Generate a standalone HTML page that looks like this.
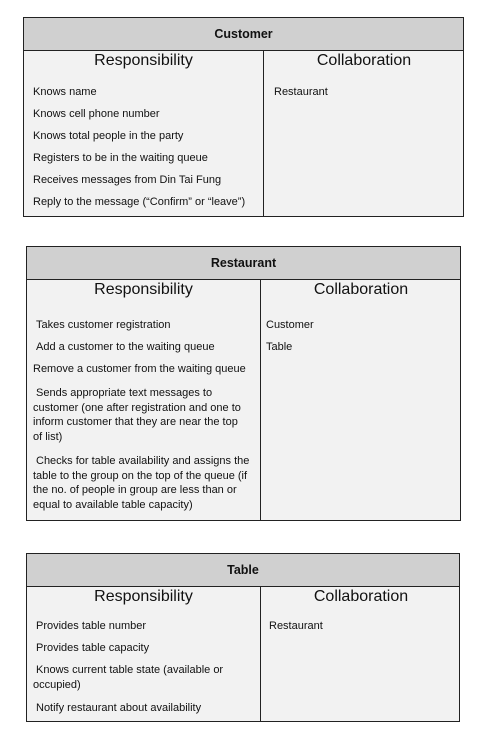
<!DOCTYPE html>
<html><head><meta charset="utf-8"><style>
body{margin:0;width:487px;height:746px;background:#fff;position:relative;font-family:"Liberation Sans",sans-serif;color:#111;overflow:hidden}
.box{position:absolute;border:1px solid #222;background:#f2f2f2;box-sizing:border-box}
.hd{position:absolute;left:0;right:0;top:0;height:32px;background:#d0d0d0;border-bottom:1px solid #222;font-weight:bold;font-size:12.5px;text-align:center;line-height:32px}
.dv{position:absolute;top:32px;bottom:0;width:1px;background:#222}
.h2{position:absolute;font-size:16px;line-height:20px;text-align:center}
.t{position:absolute;font-size:11px;line-height:14.7px;white-space:nowrap}
.i{padding-left:3px}
</style></head><body>

<div class="box" style="left:23px;top:17px;width:441px;height:200px">
<div class="hd">Customer</div>
<div class="dv" style="left:239px"></div>
<div class="h2" style="left:0;width:239px;top:33px">Responsibility</div>
<div class="h2" style="left:240px;width:200px;top:33px">Collaboration</div>
<div class="t" style="left:9px;top:67px">Knows name</div>
<div class="t" style="left:9px;top:89px">Knows cell phone number</div>
<div class="t" style="left:9px;top:111px">Knows total people in the party</div>
<div class="t" style="left:9px;top:133px">Registers to be in the waiting queue</div>
<div class="t" style="left:9px;top:155px">Receives messages from Din Tai Fung</div>
<div class="t" style="left:9px;top:177px">Reply to the message (“Confirm” or “leave”)</div>
<div class="t" style="left:250px;top:67px">Restaurant</div>
</div>

<div class="box" style="left:26px;top:246px;width:435px;height:275px">
<div class="hd">Restaurant</div>
<div class="dv" style="left:233px"></div>
<div class="h2" style="left:0;width:233px;top:33px">Responsibility</div>
<div class="h2" style="left:234px;width:200px;top:33px">Collaboration</div>
<div class="t" style="left:9px;top:71px">Takes customer registration</div>
<div class="t" style="left:9px;top:93px">Add a customer to the waiting queue</div>
<div class="t" style="left:6px;top:115px">Remove a customer from the waiting queue</div>
<div class="t" style="left:6px;top:139px"><span class="i">Sends appropriate text messages to</span><br>customer (one after registration and one to<br>inform customer that they are near the top<br>of list)</div>
<div class="t" style="left:6px;top:207px"><span class="i">Checks for table availability and assigns the</span><br>table to the group on the top of the queue (if<br>the no. of people in group are less than or<br>equal to available table capacity)</div>
<div class="t" style="left:239px;top:71px">Customer</div>
<div class="t" style="left:239px;top:93px">Table</div>
</div>

<div class="box" style="left:26px;top:553px;width:434px;height:169px">
<div class="hd">Table</div>
<div class="dv" style="left:233px"></div>
<div class="h2" style="left:0;width:233px;top:33px">Responsibility</div>
<div class="h2" style="left:234px;width:200px;top:33px">Collaboration</div>
<div class="t" style="left:9px;top:65px">Provides table number</div>
<div class="t" style="left:9px;top:87px">Provides table capacity</div>
<div class="t" style="left:6px;top:109px"><span class="i">Knows current table state (available or</span><br>occupied)</div>
<div class="t" style="left:9px;top:147px">Notify restaurant about availability</div>
<div class="t" style="left:242px;top:65px">Restaurant</div>
</div>

</body></html>
